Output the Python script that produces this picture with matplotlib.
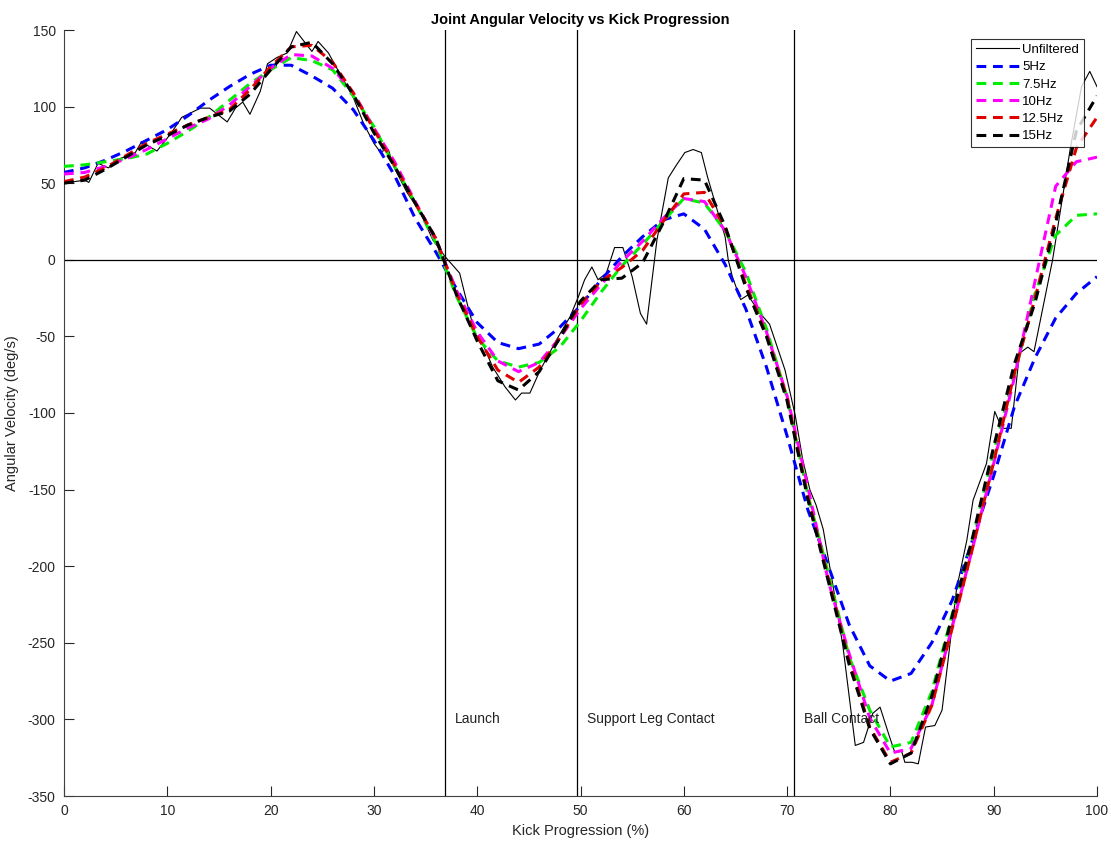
import matplotlib
matplotlib.use("Agg")
import matplotlib.pyplot as plt

plt.rcParams['font.family'] = ['Liberation Sans', 'DejaVu Sans']
plt.rcParams['axes.unicode_minus'] = False

# ---- data ----
x_unf = [0, 1, 2, 2.4, 3.3, 4.3, 5.4, 6.9, 7.5, 9.0, 10.3, 11.4, 13.2, 14.1, 15.8, 16.6,
         17.3, 18.0, 19.0, 19.7, 20.6, 21.6, 22.5, 24.0, 24.6, 25.6, 26.5, 28.0, 29.0,
         30.0, 30.6, 31.4, 31.9, 33.2, 34.5, 35.7, 36.9, 38.3, 39.1, 39.8, 40.6, 41.5,
         42.7, 43.7, 44.3, 45.1, 46.1, 47.7, 49.0, 49.8, 50.4, 51.1, 51.7, 52.5, 53.3,
         54.1, 55.0, 55.8, 56.4, 57.4, 58.5, 59.3, 60.1, 60.9, 61.7, 62.3, 63.3, 64.0,
         64.3, 64.7, 65.5, 66.2, 67.4, 68.3, 69.8, 70.3, 70.8, 71.5, 72.2, 72.8, 73.5,
         74.4, 75.4, 76.6, 77.4, 78.3, 79.0, 79.9, 80.4, 81.1, 81.4, 82.1, 82.7, 83.4,
         84.3, 85.0, 85.5, 86.4, 87.4, 88.0, 89.3, 90.1, 90.8, 91.7, 92.5, 93.3, 93.9,
         95.7, 97.4, 98.5, 99.3, 100]
y_unf = [50, 51, 52, 50.5, 63, 60, 66, 70, 77, 71, 82, 93, 99, 99, 90, 99,
         103, 95, 110, 128, 132, 135, 149, 136, 142.5, 135, 124, 106, 89,
         76, 70.5, 72, 61, 44, 31, 13, 2, -8.7, -30.5, -48, -56, -70,
         -83, -91.5, -87, -87, -72, -52, -37, -24, -13, -4.7, -13, -8.7, 8,
         8, -11, -35, -42, 13, 53.5, 62, 70, 72, 70, 54, 31, 15,
         0, -11, -26, -23, -35, -42, -72, -87, -102, -130, -150, -160, -176,
         -211, -252, -317, -315, -296, -292, -311, -321, -321, -328, -328, -329, -305,
         -304, -294, -266, -215, -183, -157, -133, -99, -110, -110, -61, -57, -60,
         0, 72, 113, 123, 113]

x_filt = list(range(0, 101, 2))
y_5hz = [57, 60, 65, 71, 78, 85, 94, 104, 113, 121, 127, 127, 120, 112, 98, 78,
         55, 27, 5, -19, -41, -54, -58, -55, -44, -30, -13, 2, 15, 26, 30, 20,
         -3, -32, -70, -115, -163, -200, -238, -265, -275, -270, -250, -222, -182,
         -141, -96, -64, -38, -22, -11]
y_7_5hz = [61, 62, 64, 66, 69, 76, 84, 93, 104, 115, 124, 132, 130, 124, 107, 87,
           61, 37, 11, -24, -51, -66, -70, -67, -57, -40, -21, -4, 10, 25, 40, 37,
           19, -8, -45, -90, -153, -205, -259, -294, -318, -315, -282, -231, -181,
           -125, -75, -22, 16, 29, 30]
y_10hz = [56, 57, 61, 66, 72, 79, 86, 92, 101, 113, 125, 134, 133, 125, 109, 86,
          64, 38, 13, -20, -47, -66, -73, -67, -51, -32, -16, -1, 12, 27, 40, 38,
          19, -11, -47, -89, -148, -210, -257, -299, -322, -319, -291, -239, -187,
          -133, -77, -14, 48, 64, 67]
y_12_5hz = [51, 54, 60, 68, 76, 82, 88, 93, 98, 111, 126, 139, 140, 129, 109, 85,
            62, 37, 14, -22, -50, -72, -80, -70, -51, -29, -14, -5, 6, 25, 43, 44,
            21, -16, -49, -90, -155, -208, -262, -305, -328, -322, -291, -240, -187,
            -132, -74, -25, 27, 73, 93]
y_15hz = [50, 52, 59, 67, 75, 81, 88, 93, 97, 108, 124, 139, 142, 128, 108, 83,
          61, 37, 14, -23, -53, -79, -85, -73, -51, -27, -13, -12, -2, 24, 53, 52,
          22, -18, -50, -92, -156, -210, -264, -306, -329, -322, -285, -232, -180,
          -122, -68, -28, 24, 84, 107]

series_labels = ['5Hz', '7.5Hz', '10Hz', '12.5Hz', '15Hz']
series_values = [y_5hz, y_7_5hz, y_10hz, y_12_5hz, y_15hz]
series_colors = ['#0000ff', '#00ee00', '#ff00ff', '#e00000', '#000000']

events = ['Launch', 'Support Leg Contact', 'Ball Contact']
event_x = [36.9, 49.7, 70.7]

# ---- figure ----
fig = plt.figure(figsize=(11.11, 8.43), dpi=100)
ax = fig.add_axes([64 / 1111, 47 / 843, 1033 / 1111, 766 / 843])

ax.plot(x_unf, y_unf, color='black', lw=0.8, label='Unfiltered', zorder=3)
for lab, vals, col in zip(series_labels, series_values, series_colors):
    ax.plot(x_filt, vals, color=col, lw=2.2, dashes=(3.2, 2.2), label=lab, zorder=4)

ax.axhline(0, color='black', lw=0.9, zorder=2)
for ex, name in zip(event_x, events):
    ax.axvline(ex, color='black', lw=0.9, zorder=2)
    ax.text(ex + 0.9, -300, name, fontsize=10, va='center', ha='left', color='#222222', zorder=5)

ax.set_xlim(0, 100)
ax.set_ylim(-350, 150)
ax.set_xticks(range(0, 101, 10))
ax.set_yticks(range(-350, 151, 50))
ax.tick_params(direction='in', length=7, width=0.8, colors='#262626', labelsize=10)
ax.tick_params(axis='x', pad=6)
ax.tick_params(axis='y', pad=6)
for s in ['top', 'right']:
    ax.spines[s].set_visible(False)
for s in ['left', 'bottom']:
    ax.spines[s].set_color('#404040')
    ax.spines[s].set_linewidth(0.8)

ax.set_xlabel('Kick Progression (%)', fontsize=10.5, color='#262626', labelpad=4)
ax.set_ylabel('Angular Velocity (deg/s)', fontsize=10.5, color='#262626', labelpad=6)
ax.set_title('Joint Angular Velocity vs Kick Progression', fontsize=10.5, fontweight='bold', pad=4)

leg = ax.legend(loc='upper right', bbox_to_anchor=(0.987, 0.988), borderaxespad=0,
                fontsize=9.5, frameon=True, fancybox=False, handlelength=3.3,
                handletextpad=0.2, labelspacing=0.38, borderpad=0.35)
leg.get_frame().set_edgecolor('black')
leg.get_frame().set_linewidth(0.8)

fig.savefig('out.png', dpi=100)
